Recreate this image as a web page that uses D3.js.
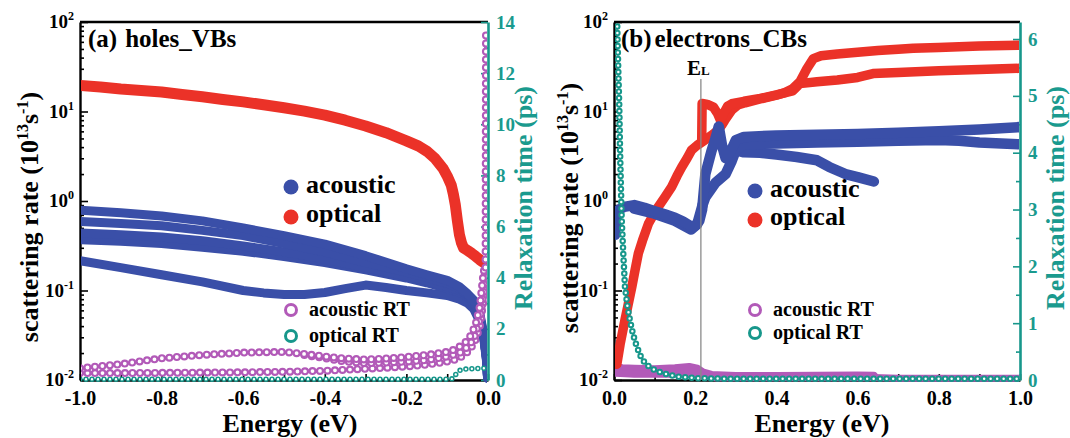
<!DOCTYPE html>
<html><head><meta charset="utf-8">
<script src="https://cdn.jsdelivr.net/npm/d3@7"></script>
<style>
html,body{margin:0;padding:0;background:#fff;}
svg{display:block;}
text{font-family:"Liberation Serif","Times New Roman",serif;font-weight:bold;}
</style></head><body>
<svg id="chart" width="1070" height="438"></svg>
<script>
// ---------------- DATA ----------------
// Axis tick labels
const xTicksA = [-1.0, -0.8, -0.6, -0.4, -0.2, 0.0];
const xTicksB = [0.0, 0.2, 0.4, 0.6, 0.8, 1.0];
const logDecades = [-2, -1, 0, 1, 2];
const rtTicksA = [0, 2, 4, 6, 8, 10, 12, 14];
const rtTicksB = [0, 1, 2, 3, 4, 5, 6];
const legendLabels = ["acoustic", "optical", "acoustic RT", "optical RT"];
const EL = 0.214;

// Panel (a) holes_VBs : scattering rate (1e13 s^-1), [energy eV, value]
const holesOptical = [[-1.0,19.5],[-0.95,18.8],[-0.9,17.8],[-0.85,17.2],[-0.8,16.5],[-0.75,15.5],[-0.7,14.6],[-0.65,13.6],[-0.6,12.8],[-0.55,11.9],[-0.5,11.0],[-0.45,10.1],[-0.4,9.1],[-0.35,8.0],[-0.3,6.9],[-0.25,5.8],[-0.2,4.7],[-0.17,4.1],[-0.15,3.6],[-0.13,3.0],[-0.11,2.3],[-0.1,1.9],[-0.09,1.5],[-0.085,1.2],[-0.08,0.9],[-0.075,0.6],[-0.07,0.42],[-0.065,0.34],[-0.06,0.30],[-0.05,0.28],[-0.04,0.26],[-0.03,0.24],[-0.02,0.22],[-0.01,0.205],[-0.004,0.195]];
const holesAcoustic1 = [[-1,0.79],[-0.9,0.74],[-0.8,0.68],[-0.7,0.6],[-0.6,0.5],[-0.5,0.41],[-0.4,0.33],[-0.3,0.245],[-0.2,0.175],[-0.15,0.15],[-0.1,0.13],[-0.07,0.11],[-0.05,0.092],[-0.035,0.078],[-0.02,0.055],[-0.01,0.032],[-0.004,0.018],[-0.001,0.0105]];
const holesAcoustic2 = [[-1,0.59],[-0.9,0.56],[-0.8,0.53],[-0.7,0.47],[-0.6,0.41],[-0.5,0.335],[-0.4,0.27],[-0.3,0.205],[-0.2,0.16],[-0.15,0.14],[-0.1,0.12],[-0.07,0.105],[-0.05,0.09],[-0.035,0.075],[-0.02,0.053],[-0.01,0.03],[-0.004,0.018],[-0.001,0.0105]];
const holesAcoustic3 = [[-1,0.44],[-0.9,0.42],[-0.8,0.395],[-0.7,0.36],[-0.6,0.315],[-0.5,0.27],[-0.4,0.225],[-0.3,0.18],[-0.2,0.145],[-0.15,0.128],[-0.1,0.11],[-0.07,0.1],[-0.05,0.088],[-0.035,0.072],[-0.02,0.05],[-0.01,0.03],[-0.004,0.018],[-0.001,0.0105]];
const holesAcoustic4 = [[-1,0.37],[-0.9,0.355],[-0.8,0.335],[-0.7,0.305],[-0.6,0.275],[-0.5,0.24],[-0.4,0.205],[-0.3,0.17],[-0.2,0.138],[-0.15,0.122],[-0.1,0.105],[-0.07,0.095],[-0.05,0.085],[-0.035,0.07],[-0.02,0.05],[-0.01,0.03],[-0.004,0.018],[-0.001,0.0105]];
const holesAcoustic5 = [[-1,0.215],[-0.9,0.18],[-0.8,0.15],[-0.7,0.125],[-0.6,0.1],[-0.55,0.094],[-0.5,0.09],[-0.45,0.09],[-0.4,0.095],[-0.35,0.105],[-0.3,0.115],[-0.25,0.108],[-0.2,0.1],[-0.15,0.094],[-0.1,0.088],[-0.07,0.08],[-0.05,0.072],[-0.035,0.062],[-0.02,0.045],[-0.01,0.028],[-0.004,0.017],[-0.001,0.0105]];
// Panel (a) relaxation times (ps)
const holesAcRT1 = [[-1,0.46],[-0.9,0.62],[-0.8,0.85],[-0.7,0.98],[-0.6,1.07],[-0.5,1.1],[-0.45,1.02],[-0.4,0.92],[-0.35,0.84],[-0.3,0.8],[-0.25,0.84],[-0.2,0.9],[-0.15,0.98],[-0.1,1.1],[-0.08,1.2],[-0.06,1.4],[-0.05,1.56],[-0.04,1.8],[-0.03,2.2],[-0.02,2.87],[-0.011,4.2],[-0.007,4.5]];
const holesAcRT2 = [[-1,0.27],[-0.9,0.27],[-0.8,0.28],[-0.7,0.29],[-0.6,0.3],[-0.5,0.32],[-0.4,0.36],[-0.3,0.44],[-0.25,0.48],[-0.2,0.53],[-0.15,0.6],[-0.1,0.72],[-0.08,0.8],[-0.06,0.95],[-0.05,1.1],[-0.04,1.3],[-0.03,1.6],[-0.02,2.1],[-0.012,3.0],[-0.007,4.2]];
const holesAcRT3 = [[-0.45,0.98],[-0.4,0.85],[-0.35,0.72],[-0.3,0.66],[-0.25,0.68],[-0.2,0.72],[-0.15,0.78],[-0.1,0.92],[-0.07,1.05],[-0.05,1.3],[-0.035,1.6],[-0.02,2.4],[-0.01,3.5],[-0.006,4.4]];
const holesAcRTedge = [[-0.006,4.4],[-0.005,13.6]];
const holesOpRT = [[-1,0.03],[-0.5,0.03],[-0.09,0.03],[-0.085,0.08],[-0.08,0.2],[-0.075,0.3],[-0.07,0.37],[-0.06,0.42],[-0.04,0.44],[-0.02,0.45],[-0.004,0.47]];

// Panel (b) electrons_CBs : scattering rate (1e13 s^-1)
const elecOptical1 = [[0.007,0.015],[0.015,0.025],[0.027,0.047],[0.035,0.07],[0.044,0.11],[0.052,0.17],[0.06,0.26],[0.07,0.36],[0.085,0.56],[0.1,0.74],[0.109,0.86],[0.125,1.1],[0.142,1.44],[0.155,1.9],[0.167,2.4],[0.18,3.0],[0.191,3.7],[0.205,4.2],[0.224,4.8],[0.24,5.4],[0.257,6.2],[0.265,7.0],[0.273,8.0],[0.29,10.4],[0.305,11.8],[0.323,12.5],[0.36,13.8],[0.4,15.2],[0.42,16.2],[0.44,18.0],[0.458,21.5],[0.475,30],[0.491,39],[0.51,42],[0.55,44],[0.6,46],[0.65,48],[0.7,49.5],[0.737,50.8],[0.8,52],[0.85,53],[0.9,54],[1.0,55]];
const elecOptical2 = [[0.216,4.6],[0.217,12.3],[0.23,12.0],[0.245,11.2],[0.255,9.5],[0.262,8.0],[0.27,9.5],[0.28,11.5],[0.29,12.2],[0.32,13.0],[0.36,14.0],[0.4,15.3],[0.44,17],[0.458,20.5],[0.5,21.5],[0.55,22.5],[0.6,24],[0.638,26.5],[0.7,27.3],[0.8,28.5],[0.9,29.5],[1.0,30.4]];
const elecAcoustic1 = [[0.003,0.42],[0.006,0.7],[0.012,0.8],[0.025,0.86],[0.05,0.9],[0.075,0.84],[0.1,0.77],[0.125,0.71],[0.15,0.65],[0.17,0.59],[0.19,0.52],[0.2,0.53],[0.21,0.6],[0.217,0.8],[0.225,2.0],[0.24,3.6],[0.25,5.0],[0.258,6.8],[0.266,4.2],[0.275,3.0],[0.29,3.8],[0.3,4.8],[0.32,5.2],[0.4,5.4],[0.5,5.5],[0.6,5.6],[0.7,5.8],[0.8,6.0],[0.9,6.3],[1.0,6.7]];
const elecAcoustic2 = [[0.05,0.82],[0.1,0.72],[0.15,0.6],[0.19,0.48],[0.205,0.55],[0.218,0.9],[0.225,1.1],[0.25,1.6],[0.275,2.0],[0.29,2.8],[0.3,3.7],[0.32,4.3],[0.4,4.4],[0.5,4.5],[0.6,4.6],[0.7,4.7],[0.8,4.8],[0.85,4.7],[0.9,4.5],[1.0,4.3]];
const elecAcoustic3 = [[0.3,3.7],[0.32,3.5],[0.36,3.45],[0.4,3.3],[0.45,3.1],[0.5,2.85],[0.53,2.4],[0.57,2.0],[0.6,1.85],[0.64,1.65]];
// Panel (b) relaxation times (ps)
const elecAcRT1 = [[0.004,0.22],[0.02,0.2],[0.05,0.19],[0.1,0.18],[0.15,0.2],[0.185,0.22],[0.205,0.19],[0.22,0.12],[0.24,0.08],[0.3,0.06],[0.4,0.06],[0.5,0.065],[0.6,0.07],[0.64,0.065]];
const elecAcRT2 = [[0.004,0.12],[0.05,0.1],[0.1,0.1],[0.15,0.1],[0.2,0.1],[0.22,0.07],[0.25,0.04],[0.4,0.04],[0.64,0.045],[0.7,0.03],[1.0,0.03]];
const elecOpRT = [[0.008,6.22],[0.01,5.6],[0.013,4.8],[0.015,4.0],[0.017,3.4],[0.019,2.82],[0.023,2.2],[0.027,1.64],[0.033,1.3],[0.039,1.06],[0.047,0.8],[0.056,0.59],[0.065,0.43],[0.076,0.30],[0.09,0.21],[0.108,0.15],[0.13,0.1],[0.158,0.06],[0.19,0.04],[0.214,0.03],[0.3,0.02],[0.6,0.02],[1.0,0.02]];

// ---------------- STYLE ----------------
const C = { blue: "#3a4fa8", red: "#eb3228", mag: "#b25ab8", teal: "#17978b", tealText: "#1a9a8e", grey: "#8a8a8a" };
const TOP = 22, BOT = 380;
const FONT = "'Liberation Serif','Times New Roman',serif";

const svg = d3.select("#chart");

function thick(layer, data, x, y, color, w) {
  const line = d3.line().x(p => x(p[0])).y(p => y(p[1]));
  layer.append("path").attr("d", line(data)).attr("fill", "none")
    .attr("stroke", color).attr("stroke-width", w)
    .attr("stroke-linejoin", "round").attr("stroke-linecap", "round");
}
function rings(layer, data, x, y, color, d, inner, gap) {
  const line = d3.line().x(p => x(p[0])).y(p => y(p[1]));
  layer.append("path").attr("d", line(data)).attr("fill", "none")
    .attr("stroke", color).attr("stroke-width", d)
    .attr("stroke-linecap", "round").attr("stroke-dasharray", `0 ${gap}`);
  layer.append("path").attr("d", line(data)).attr("fill", "none")
    .attr("stroke", "#fff").attr("stroke-width", inner)
    .attr("stroke-linecap", "round").attr("stroke-dasharray", `0 ${gap}`);
}

function panel(cfg) {
  const g = svg.append("g");
  const x = d3.scaleLinear().domain(cfg.xDomain).range([cfg.x0, cfg.x1]);
  const y = d3.scaleLog().domain([0.01, 100]).range([BOT, TOP]);
  const yR = d3.scaleLinear().domain([0, cfg.rtMax]).range([BOT, TOP]);

  // frame: top line
  g.append("line").attr("x1", cfg.x0).attr("x2", cfg.x1).attr("y1", TOP).attr("y2", TOP)
    .attr("stroke", "#000").attr("stroke-width", 2.4);

  // left log axis
  const decadeVals = logDecades.map(e => Math.pow(10, e));
  const minorVals = [];
  logDecades.slice(0, -1).forEach(e => { for (let k = 2; k <= 9; k++) minorVals.push(k * Math.pow(10, e)); });
  const la = g.append("g").attr("transform", `translate(${cfg.x0},0)`)
    .call(d3.axisLeft(y).tickValues(decadeVals).tickSize(-8).tickSizeOuter(0).tickFormat(""));
  g.append("g").attr("transform", `translate(${cfg.x0},0)`)
    .call(d3.axisLeft(y).tickValues(minorVals).tickSize(-4).tickSizeOuter(0).tickFormat(""))
    .select(".domain").remove();
  g.selectAll(".tick line").attr("stroke", "#000").attr("stroke-width", 1.6);
  la.select(".domain").attr("stroke", "#000").attr("stroke-width", 2.4);
  logDecades.forEach(e => {
    const t = g.append("text").attr("x", cfg.x0 - 6).attr("y", y(Math.pow(10, e)) + 6)
      .attr("text-anchor", "end").attr("font-size", 19).attr("fill", "#000");
    t.append("tspan").text("10");
    t.append("tspan").attr("font-size", 12).attr("dy", -8).text(String(e));
  });

  // bottom axis
  const minorX = d3.range(0, 11).map(i => cfg.xDomain[0] + i * 0.1);
  const ba = g.append("g").attr("transform", `translate(0,${BOT})`)
    .call(d3.axisBottom(x).tickValues(minorX).tickSize(-6).tickSizeOuter(0).tickFormat(""));
  ba.selectAll(".tick line").attr("stroke", "#000").attr("stroke-width", 1.6);
  ba.select(".domain").attr("stroke", "#000").attr("stroke-width", 2.4);
  const bl = g.append("g").attr("transform", `translate(0,${BOT})`)
    .call(d3.axisBottom(x).tickValues(cfg.xTicks).tickSize(0).tickSizeOuter(0).tickPadding(11)
      .tickFormat(d => (Math.abs(d) < 1e-9 ? 0 : d).toFixed(1)));
  bl.select(".domain").remove();
  bl.selectAll("text").attr("font-size", 20).attr("fill", "#000")
    .attr("font-family", FONT).attr("font-weight", "bold");

  // right axis (relaxation time)
  const ra = g.append("g").attr("transform", `translate(${cfg.x1},0)`)
    .call(d3.axisRight(yR).tickValues(cfg.rtTicks).tickSize(-7).tickSizeOuter(0).tickPadding(8).tickFormat(d3.format("d")));
  ra.selectAll(".tick line").attr("stroke", C.teal).attr("stroke-width", 1.6);
  ra.selectAll("text").attr("font-size", 19).attr("fill", C.tealText)
    .attr("font-family", FONT).attr("font-weight", "bold");
  const rmin = g.append("g").attr("transform", `translate(${cfg.x1},0)`)
    .call(d3.axisRight(yR).tickValues(cfg.rtMinor).tickSize(-4).tickSizeOuter(0).tickFormat(""));
  rmin.select(".domain").remove();
  rmin.selectAll(".tick line").attr("stroke", C.teal).attr("stroke-width", 1.6);
  ra.select(".domain").attr("stroke", C.teal).attr("stroke-width", 2.6);

  // data layer
  const clipId = "clip" + cfg.id;
  svg.append("clipPath").attr("id", clipId).append("rect")
    .attr("x", cfg.x0 + 1).attr("y", TOP + 1).attr("width", cfg.x1 - cfg.x0 - 2).attr("height", BOT - TOP + 3);
  const d = g.append("g").attr("clip-path", `url(#${clipId})`);
  cfg.draw(d, x, y, yR);

  // axis titles
  const lt = g.append("text").attr("transform", `translate(${cfg.ltX},${cfg.ltY}) rotate(-90)`)
    .attr("text-anchor", "middle").attr("font-size", 26).attr("fill", "#000");
  lt.append("tspan").text("scattering rate (10");
  lt.append("tspan").attr("font-size", 16).attr("dy", -10).text("13");
  lt.append("tspan").attr("dy", 10).text("s");
  lt.append("tspan").attr("font-size", 16).attr("dy", -10).text("-1");
  lt.append("tspan").attr("dy", 10).text(")");
  g.append("text").attr("transform", `translate(${cfg.rtX},${cfg.rtY}) rotate(-90)`)
    .attr("text-anchor", "middle").attr("font-size", 26).attr("fill", C.tealText)
    .text("Relaxation time (ps)");
  g.append("text").attr("x", cfg.exX).attr("y", 432).attr("text-anchor", "middle")
    .attr("font-size", 26).attr("fill", "#000").text("Energy (eV)");

  // panel title
  const pt = g.append("text").attr("x", cfg.tX).attr("y", 47).attr("font-size", 25).attr("fill", "#000");
  pt.append("tspan").text(cfg.tag);
  pt.append("tspan").attr("dx", cfg.tGap).text(cfg.title);

  // legend
  const lg = g.append("g");
  lg.append("circle").attr("cx", cfg.lgX).attr("cy", cfg.lgY[0]).attr("r", 7.5).attr("fill", C.blue);
  lg.append("circle").attr("cx", cfg.lgX).attr("cy", cfg.lgY[1]).attr("r", 7.5).attr("fill", C.red);
  lg.append("circle").attr("cx", cfg.lgX).attr("cy", cfg.lgY[2]).attr("r", 5.5).attr("fill", "#fff").attr("stroke", C.mag).attr("stroke-width", 3);
  lg.append("circle").attr("cx", cfg.lgX).attr("cy", cfg.lgY[3]).attr("r", 5.5).attr("fill", "#fff").attr("stroke", C.teal).attr("stroke-width", 3);
  lg.append("text").attr("x", cfg.lgX + 15).attr("y", cfg.lgY[0] + 6).attr("font-size", 26).text(legendLabels[0]);
  lg.append("text").attr("x", cfg.lgX + 15).attr("y", cfg.lgY[1] + 5).attr("font-size", 26).text(legendLabels[1]);
  lg.append("text").attr("x", cfg.lgX + 18).attr("y", cfg.lgY[2] + 6).attr("font-size", 20).text(legendLabels[2]);
  lg.append("text").attr("x", cfg.lgX + 18).attr("y", cfg.lgY[3] + 6).attr("font-size", 20).text(legendLabels[3]);
  return { g, x, y, yR };
}

// Panel (a)
panel({
  id: "a", xDomain: [-1, 0], x0: 80, x1: 488, xTicks: xTicksA, rtMax: 14,
  rtTicks: rtTicksA, rtMinor: d3.range(1, 14, 2),
  ltX: 38, ltY: 217, rtX: 532, rtY: 198, exX: 290,
  tX: 88, tGap: 8, tag: "(a)", title: "holes_VBs",
  lgX: 291, lgY: [187, 217, 310, 336],
  draw: (d, x, y, yR) => {
    thick(d, holesOptical, x, y, C.red, 11);
    [holesAcoustic5, holesAcoustic4, holesAcoustic3, holesAcoustic2, holesAcoustic1]
      .forEach(s => thick(d, s, x, y, C.blue, 9));
    rings(d, holesOpRT, x, yR, C.teal, 5.5, 2.4, 6);
    rings(d, holesAcRT2, x, yR, C.mag, 8, 3.8, 7.5);
    rings(d, holesAcRT3, x, yR, C.mag, 8, 3.8, 7.5);
    rings(d, holesAcRT1, x, yR, C.mag, 8, 3.8, 7.5);
    rings(d, holesAcRTedge, x, yR, C.mag, 8, 3.8, 8);
  }
});

// Panel (b)
const pb = panel({
  id: "b", xDomain: [0, 1], x0: 614, x1: 1020, xTicks: xTicksB, rtMax: 6.3,
  rtTicks: rtTicksB, rtMinor: d3.range(0.5, 6.3, 1),
  ltX: 578, ltY: 208, rtX: 1064, rtY: 198, exX: 822,
  tX: 621, tGap: 3, tag: "(b)", title: "electrons_CBs",
  lgX: 755, lgY: [191, 220, 310, 333],
  draw: (d, x, y, yR) => {
    thick(d, elecAcRT1, x, yR, C.mag, 9);
    thick(d, elecAcRT2, x, yR, C.mag, 7);
    thick(d, elecOptical1, x, y, C.red, 9.5);
    thick(d, elecOptical2, x, y, C.red, 9.5);
    [elecAcoustic3, elecAcoustic2, elecAcoustic1].forEach(s => thick(d, s, x, y, C.blue, 10.5));
    rings(d, elecOpRT, x, yR, C.teal, 6.5, 2.5, 6.5);
    // E_L marker line
    d.append("line").attr("x1", x(EL)).attr("x2", x(EL)).attr("y1", 79).attr("y2", BOT)
      .attr("stroke", C.grey).attr("stroke-width", 1.3);
  }
});
// E_L label
const elT = pb.g.append("text").attr("x", pb.x(EL) - 14).attr("y", 75).attr("font-size", 21).attr("fill", "#000");
elT.append("tspan").text("E");
elT.append("tspan").attr("font-size", 13).text("L");
</script>
</body></html>
